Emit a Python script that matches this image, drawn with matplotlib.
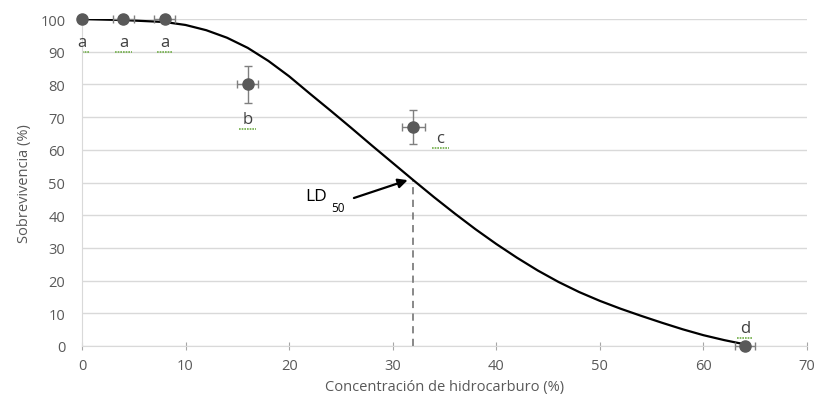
import matplotlib.pyplot as plt

plt.rcParams['font.family'] = ['Open Sans', 'DejaVu Sans']

# observed survival points
conc = [0, 4, 8, 16, 32, 64]
surv = [100, 100, 100, 80, 67, 0]
yerr = [0, 0, 0, 5.7, 5.2, 0]
xerr = [0, 1.0, 1.0, 1.0, 1.1, 1.0]
letters = ['a', 'a', 'a', 'b', 'c', 'd']
letter_x = [0, 4, 8, 16, 34.6, 64]
letter_y = [93, 93, 93, 69.5, 63.5, 5.5]

# fitted curve
fit_x = [0, 4, 8, 10, 12, 14, 16, 18, 20, 22, 24, 26, 28, 30, 32, 34, 36, 38,
         40, 42, 44, 46, 48, 50, 52, 54, 56, 58, 60, 62, 64]
fit_y = [100, 99.7, 99.1, 98.2, 96.6, 94.3, 91.2, 87.2, 82.5, 77.2, 72.0, 66.7,
         61.3, 56.0, 50.7, 45.5, 40.5, 35.7, 31.2, 27.0, 23.1, 19.6, 16.5, 13.8,
         11.4, 9.2, 7.1, 5.1, 3.3, 1.8, 0.5]

ld50_x = 32
ld50_y = 51

fig = plt.figure(figsize=(8.18, 4.10), dpi=100)
ax = fig.add_axes([0.1002, 0.1537, 0.8864, 0.7973])

grey = '#595959'
ax.set_xlim(0, 70)
ax.set_ylim(0, 100)
ax.set_yticks(range(0, 101, 10))
ax.set_xticks(range(0, 71, 10))
ax.grid(axis='y', color='#d9d9d9', lw=1)
ax.set_axisbelow(True)
for s in ['top', 'right']:
    ax.spines[s].set_visible(False)
ax.spines['left'].set_color('#d9d9d9')
ax.spines['bottom'].set_color('#d9d9d9')
ax.tick_params(axis='y', length=0, labelcolor=grey, labelsize=10.5, pad=12)
ax.tick_params(axis='x', direction='inout', length=6, color='#a6a6a6',
               labelcolor=grey, labelsize=10.5, pad=6)

ax.plot(fit_x, fit_y, color='black', lw=1.6, zorder=3, solid_joinstyle='round')
ax.errorbar(conc, surv, yerr=yerr, xerr=xerr, fmt='o', color=grey,
            ms=8, ecolor='#7f7f7f', elinewidth=1, capsize=3, zorder=4,
            clip_on=False)

for lx, ly, t in zip(letter_x, letter_y, letters):
    ax.text(lx, ly, t, ha='center', va='center', fontsize=12, color='#404040')
    ax.plot([lx - 0.8, lx + 0.8], [ly - 3.0, ly - 3.0], color='#70ad47',
            lw=1.2, ls=(0, (1, 0.6)))

ax.plot([ld50_x, ld50_x], [0, ld50_y], color='#7f7f7f', lw=1.3, ls=(0, (4, 3)), zorder=2)
ax.annotate('', xy=(ld50_x - 0.3, ld50_y), xytext=(26, 45),
            arrowprops=dict(arrowstyle='-|>', color='black', lw=1.6,
                            mutation_scale=14))
ax.text(21.6, 46, 'LD', ha='left', va='center', fontsize=12.5, color='black')
ax.text(24.1, 42.5, '50', ha='left', va='center', fontsize=8.5, color='black')

ax.set_xlabel('Concentración de hidrocarburo (%)', fontsize=10.5, color=grey, labelpad=4)
ax.set_ylabel('Sobrevivencia (%)', fontsize=10.5, color=grey, labelpad=6)

fig.savefig('out.png', dpi=100)
